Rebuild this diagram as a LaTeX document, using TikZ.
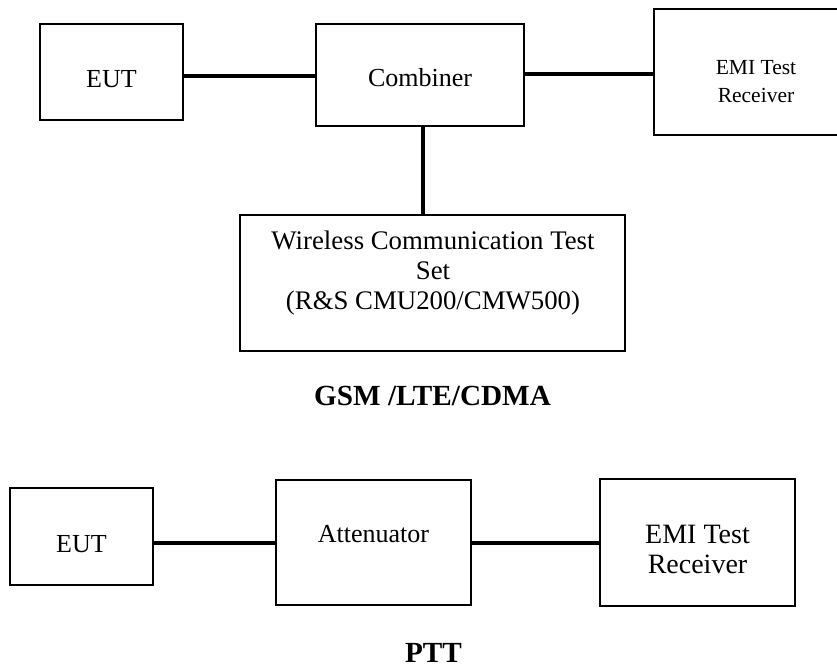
\documentclass[tikz,border=0pt]{standalone}
\usepackage{fontspec}
\setmainfont{Liberation Serif}
\tikzset{
  unit/.style={draw, line width=2pt, inner sep=0pt},
  wire/.style={line width=3.5pt},
  txt/.style={inner sep=0pt, align=center, font=\fontsize{26}{30}\selectfont},
  smalltxt/.style={inner sep=0pt, align=center, font=\fontsize{21.5}{28}\selectfont},
  bigtxt/.style={inner sep=0pt, align=center, font=\fontsize{28}{30}\selectfont},
  caption/.style={inner sep=0pt, font=\fontsize{29.2}{33}\selectfont\bfseries},
}
\begin{document}
\begin{tikzpicture}[x=1pt,y=-1pt]
\useasboundingbox (0,0) rectangle (837,670);
% GSM / LTE / CDMA set-up
\node[unit, minimum width=143pt, minimum height=96pt] (eutA) at (111.5,72) {};
\node[txt] (eutAtxt) at (111.5,79) {EUT};
\node[unit, minimum width=208pt, minimum height=102pt] (comb) at (420,75) {};
\node[txt] (combtxt) at (420,78) {Combiner};
\node[unit, minimum width=204pt, minimum height=126pt] (emiA) at (756,72) {};
\node[smalltxt] (emiAtxt) at (756,81.5) {EMI Test\\Receiver};
\node[unit, minimum width=385pt, minimum height=136pt] (wcts) at (432.5,283) {};
\node[txt, font=\fontsize{26.8}{30}\selectfont] (wctstxt) at (433,273.3) {Wireless Communication Test\\Set\\(R\&S CMU200/CMW500)};
\node[caption] (gsm) at (432.5,396) {GSM /LTE/CDMA};
\draw[wire] ([yshift=-4pt]eutA.east) -- ([yshift=-4pt]eutA.east -| comb.west);
\draw[wire] ([yshift=1pt]comb.east) -- ([yshift=1pt]comb.east -| emiA.west);
\draw[wire] ([xshift=3pt]comb.south) -- ([xshift=3pt]comb.south |- wcts.north);
% PTT set-up
\node[unit, minimum width=143pt, minimum height=97pt] (eutB) at (81.5,536.5) {};
\node[txt] (eutBtxt) at (81.5,544) {EUT};
\node[unit, minimum width=195pt, minimum height=125pt] (att) at (373.5,542.5) {};
\node[txt] (atttxt) at (373.5,534) {Attenuator};
\node[unit, minimum width=195pt, minimum height=127pt] (emiB) at (697.5,542.5) {};
\node[bigtxt] (emiBtxt) at (697.5,549) {EMI Test\\Receiver};
\node[caption] (ptt) at (433.5,653) {PTT};
\draw[wire] ([yshift=-6.5pt]eutB.east) -- ([yshift=-6.5pt]eutB.east -| att.west);
\draw[wire] ([yshift=-0.5pt]att.east) -- ([yshift=-0.5pt]att.east -| emiB.west);
\end{tikzpicture}
\end{document}
